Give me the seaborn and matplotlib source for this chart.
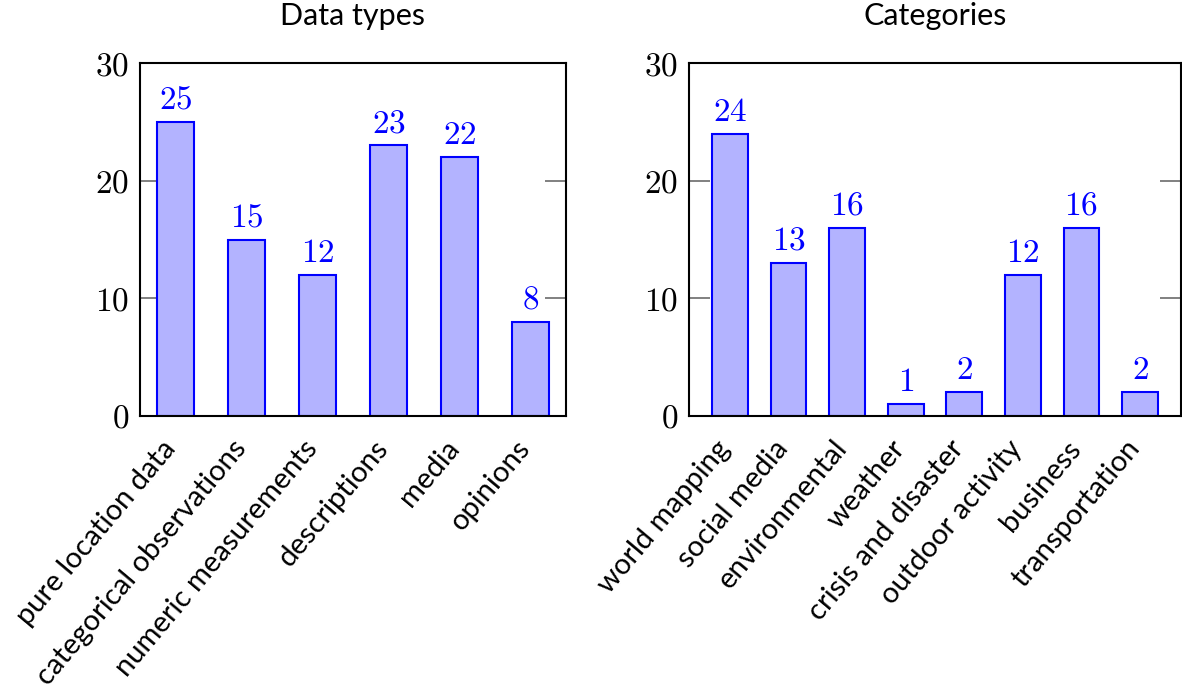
"""
Two bar charts: data types and categories counts.
"""

import pandas as pd
import seaborn as sns
import matplotlib.pyplot as plt
from matplotlib.transforms import ScaledTranslation

# values
type_names = ['pure location data', 'categorical observations', 'numeric measurements',
              'descriptions', 'media', 'opinions']
type_counts = [25, 15, 12, 23, 22, 8]

category_names = ['world mapping', 'social media', 'environmental', 'weather',
                  'crisis and disaster', 'outdoor activity', 'business', 'transportation']
category_counts = [24, 13, 16, 1, 2, 12, 16, 2]

y_ticks = [0, 10, 20, 30]

sns.set_style('white')
plt.rcParams['font.family'] = ['Lato', 'DejaVu Sans']
plt.rcParams['mathtext.fontset'] = 'cm'
plt.rcParams['text.color'] = 'black'
plt.rcParams['xtick.color'] = 'black'
plt.rcParams['ytick.color'] = 'black'

fig = plt.figure(figsize=(11.82, 6.97), dpi=100)
W, H = 1182, 697
ax1 = fig.add_axes([140 / W, (H - 416) / H, 426 / W, 353 / H])
ax2 = fig.add_axes([689 / W, (H - 416) / H, 492 / W, 353 / H])


def draw(ax, names, counts, title, width, pad):
    df = pd.DataFrame({'name': names, 'count': counts})
    sns.barplot(data=df, x='name', y='count', ax=ax, color='#b3b3ff',
                edgecolor='#0000ff', linewidth=1.5, width=width, saturation=1)
    for i, v in enumerate(counts):
        ax.text(i, v + 0.6, f'${v}$', color='#0000ff', ha='center', va='bottom',
                fontsize=24)
    ax.set_xlim(-pad, len(names) - 1 + pad)
    ax.set_ylim(0, 30)
    ax.set_yticks(y_ticks)
    ax.set_yticklabels([f'${t}$' for t in y_ticks], fontsize=24)
    ax.tick_params(axis='y', direction='in', length=15, width=1.4, color='#808080',
                   labelcolor='black', right=True, left=True, pad=8)
    ax.tick_params(axis='x', length=0, pad=14)
    ax.set_xticks(range(len(names)))
    ax.set_xticklabels(names, rotation=50, ha='right', rotation_mode='anchor',
                       fontsize=21)
    # nudge the rotated labels to the left so they end under the bar centre
    shift = ScaledTranslation(-15 / 100, 0, fig.dpi_scale_trans)
    for lab in ax.get_xticklabels():
        lab.set_transform(lab.get_transform() + shift)
    for s in ax.spines.values():
        s.set_color('black')
        s.set_linewidth(1.5)
    ax.set_xlabel('')
    ax.set_ylabel('')
    ax.set_title(title, fontsize=22, pad=27)


draw(ax1, type_names, type_counts, 'Data types', 0.51, 0.5)
draw(ax2, category_names, category_counts, 'Categories', 0.61, 0.7)

fig.savefig('out.png', dpi=100)
